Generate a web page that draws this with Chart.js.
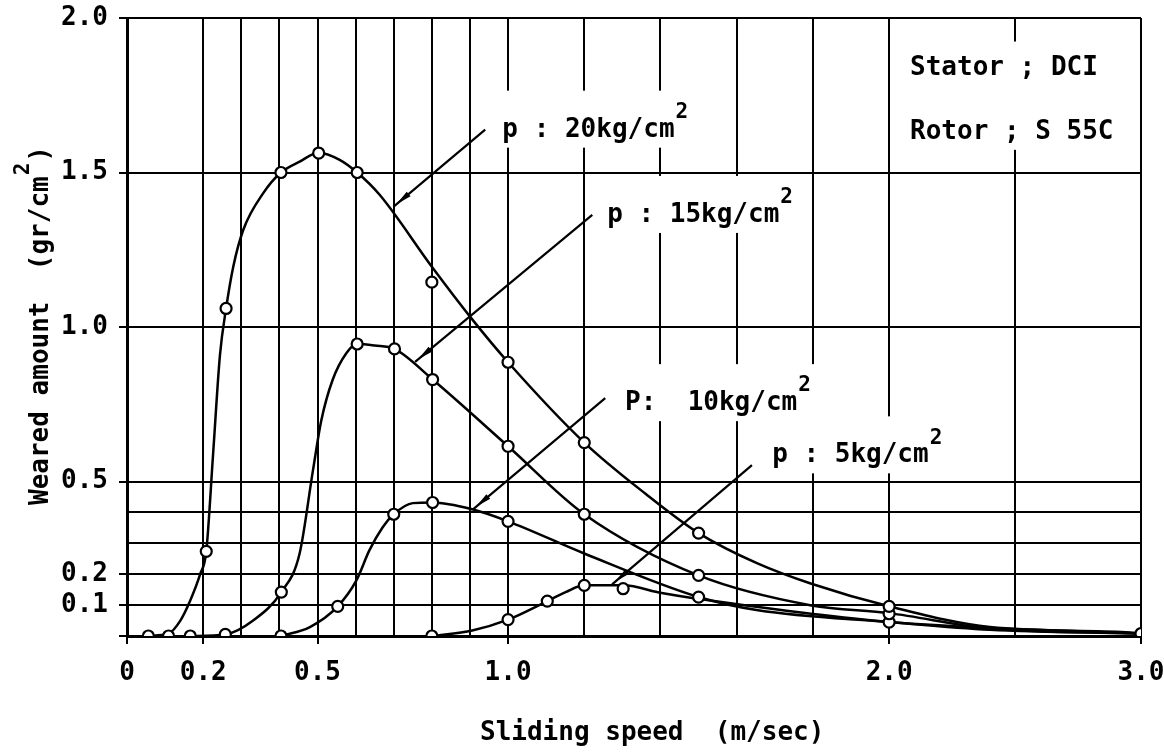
<!DOCTYPE html>
<html><head><meta charset="utf-8">
<script src="https://cdn.jsdelivr.net/npm/chart.js@4.4.1/dist/chart.umd.min.js"></script>
<style>html,body{margin:0;padding:0;background:#fff;}#wrap{width:1164px;height:752px;position:relative;}</style>
</head><body><div id="wrap"><canvas id="c"></canvas></div>
<script>
// ---------- data ----------
const xGridValues = [0, 0.2, 0.3, 0.4, 0.5, 0.6, 0.7, 0.8, 0.9, 1.0, 1.2, 1.4, 1.6, 1.8, 2.0, 2.5, 3.0];
const xTickValues = [0, 0.2, 0.5, 1.0, 2.0, 3.0];
const xTickLabels = ['0', '0.2', '0.5', '1.0', '2.0', '3.0'];
const yGridValues = [0, 0.1, 0.2, 0.3, 0.4, 0.5, 1.0, 1.5, 2.0];
const yTickValues = [0.1, 0.2, 0.5, 1.0, 1.5, 2.0];
const yTickLabels = ['0.1', '0.2', '0.5', '1.0', '1.5', '2.0'];

const seriesNames = ['p : 20kg/cm', 'p : 15kg/cm', 'P:  10kg/cm', 'p : 5kg/cm'];

// measured points (circles)
const pts20X = [0.056, 0.109, 0.208, 0.26, 0.404, 0.503, 0.604, 0.8, 1.0, 1.2, 1.5, 2.0, 3.0];
const pts20Y = [0, 0, 0.274, 1.06, 1.5, 1.563, 1.5, 1.145, 0.886, 0.626, 0.333, 0.096, 0.008];
const pts15X = [0.166, 0.258, 0.405, 0.604, 0.702, 0.802, 1.0, 1.2, 1.5, 2.0];
const pts15Y = [0, 0.005, 0.142, 0.945, 0.929, 0.83, 0.614, 0.394, 0.196, 0.072];
const pts10X = [0.404, 0.553, 0.7, 0.802, 1.0, 1.5, 2.0];
const pts10Y = [0, 0.096, 0.394, 0.432, 0.371, 0.126, 0.045];
const pts5X = [0.8, 1.0, 1.103, 1.2, 1.302];
const pts5Y = [0, 0.053, 0.113, 0.164, 0.153];

// fitted curves
const curve20X = [0.056, 0.109, 0.14, 0.166, 0.192, 0.208, 0.226, 0.244, 0.26, 0.279, 0.305, 0.358, 0.404, 0.453, 0.503, 0.558, 0.604, 0.663, 0.8, 0.907, 1.0, 1.2, 1.36, 1.5, 1.656, 1.796, 2.0, 2.4, 2.94, 3.0];
const curve20Y = [0, 0.008, 0.05, 0.115, 0.2, 0.274, 0.59, 0.91, 1.06, 1.196, 1.314, 1.434, 1.5, 1.535, 1.564, 1.541, 1.5, 1.428, 1.195, 1.023, 0.886, 0.626, 0.461, 0.333, 0.234, 0.169, 0.096, 0.029, 0.012, 0.008];
const curve15X = [0.166, 0.258, 0.331, 0.405, 0.453, 0.488, 0.51, 0.54, 0.576, 0.604, 0.65, 0.702, 0.802, 1.0, 1.2, 1.5, 1.796, 2.0, 2.4, 3.0];
const curve15Y = [0, 0.005, 0.05, 0.142, 0.267, 0.536, 0.698, 0.83, 0.916, 0.945, 0.94, 0.929, 0.83, 0.614, 0.394, 0.196, 0.099, 0.074, 0.024, 0.008];
const curve10X = [0.404, 0.48, 0.553, 0.602, 0.636, 0.671, 0.7, 0.75, 0.802, 0.906, 1.0, 1.2, 1.5, 1.656, 2.0, 2.4, 3.0];
const curve10Y = [0, 0.029, 0.096, 0.18, 0.277, 0.352, 0.394, 0.43, 0.432, 0.41, 0.371, 0.267, 0.126, 0.083, 0.045, 0.02, 0.008];
const curve5X = [0.8, 0.906, 1.0, 1.103, 1.151, 1.2, 1.302, 1.403, 1.5, 2.0, 3.0];
const curve5Y = [0, 0.018, 0.053, 0.113, 0.142, 0.164, 0.164, 0.139, 0.12, 0.045, 0.008];

const legendLines = ['Stator ; DCI', 'Rotor ; S 55C'];
const xTitle = 'Sliding speed  (m/sec)';
const yTitle = 'Weared amount  (gr/cm';

// ---------- layout / style ----------
const FONT = '"DejaVu Sans Mono", "Liberation Mono", monospace';
const WEIGHT = 'bold';
const BREAK = 2.0, COMPRESS = 0.661;   // the original axis is compressed beyond 2.0 m/s
function toAxis(v) { return v <= BREAK ? v : BREAK + (v - BREAK) * COMPRESS; }
function fromAxis(a) { return a <= BREAK ? a : BREAK + (a - BREAK) / COMPRESS; }
function idxOf(list, v) { for (let i = 0; i < list.length; i++) if (Math.abs(list[i] - v) < 1e-6) return i; return -1; }

const labelAnchors = [{x: 0.985, y: 1.616}, {x: 1.26, y: 1.34}, {x: 1.307, y: 0.731}, {x: 1.693, y: 0.562}];
const leaderLines = [[0.699, 1.389, 0.94, 1.639], [0.756, 0.887, 1.221, 1.363], [0.908, 0.41, 1.255, 0.77], [1.273, 0.167, 1.64, 0.553]];
const legendAnchor = {x: 2.083, y1: 1.817, y2: 1.609};

function toPts(xs, ys) { return xs.map((x, i) => ({x: toAxis(x), y: ys[i]})); }

const curves = [[curve20X, curve20Y], [curve15X, curve15Y], [curve10X, curve10Y], [curve5X, curve5Y]];
const points = [[pts20X, pts20Y], [pts15X, pts15Y], [pts10X, pts10Y], [pts5X, pts5Y]];

const datasets = [];
points.forEach((p, i) => datasets.push({
  type: 'scatter', label: seriesNames[i] + ' pts', data: toPts(p[0], p[1]), showLine: false,
  pointRadius: 5.5, pointBorderWidth: 2.2, pointBackgroundColor: '#fff', pointBorderColor: '#000', order: 0
}));
curves.forEach((c, i) => datasets.push({
  type: 'line', label: seriesNames[i], data: toPts(c[0], c[1]), borderColor: '#000', borderWidth: 2.5,
  pointRadius: 0, cubicInterpolationMode: 'monotone', fill: false, order: 1
}));

function fnt(size) { return WEIGHT + ' ' + size + 'px ' + FONT; }
function drawSup(ctx, main, sup, x, y, size, after) {
  ctx.font = fnt(size);
  ctx.fillText(main, x, y);
  const w = ctx.measureText(main).width;
  ctx.font = fnt(Math.round(size * 0.8));
  ctx.fillText(sup, x + w + 1, y - size * 0.72);
  const sw = ctx.measureText(sup).width;
  let total = w + 1 + sw;
  if (after) {
    ctx.font = fnt(size);
    ctx.fillText(after, x + total + 1, y);
    total += 1 + ctx.measureText(after).width;
  }
  return total;
}

const decor = {
  id: 'decor',
  beforeDatasetsDraw(chart) {
    const ctx = chart.ctx, xs = chart.scales.x, ys = chart.scales.y;
    const px = v => xs.getPixelForValue(toAxis(v)), py = v => ys.getPixelForValue(v);
    ctx.save();
    ctx.fillStyle = '#fff';
    ctx.font = fnt(26);
    labelAnchors.forEach((a, i) => {
      const w = ctx.measureText(seriesNames[i]).width + 16;
      ctx.fillRect(px(a.x) - 8, py(a.y) - 46, w + 20, 57);
    });
    const lw = Math.max(...legendLines.map(t => ctx.measureText(t).width));
    const lx = px(legendAnchor.x);
    ctx.fillRect(lx - 5, py(legendAnchor.y1) - 33, lw + 14, py(legendAnchor.y2) - py(legendAnchor.y1) + 44);
    ctx.restore();
  },
  afterDatasetsDraw(chart) {
    const ctx = chart.ctx, xs = chart.scales.x, ys = chart.scales.y;
    const px = v => xs.getPixelForValue(toAxis(v)), py = v => ys.getPixelForValue(v);
    ctx.save();
    ctx.strokeStyle = '#000'; ctx.fillStyle = '#000'; ctx.lineWidth = 2.2;
    leaderLines.forEach(l => {
      const x1 = px(l[0]), y1 = py(l[1]), x2 = px(l[2]), y2 = py(l[3]);
      ctx.beginPath(); ctx.moveTo(x1, y1); ctx.lineTo(x2, y2); ctx.stroke();
      const len = Math.hypot(x2 - x1, y2 - y1), ux = (x2 - x1) / len, uy = (y2 - y1) / len;
      const tx = x1 + ux * 4, ty = y1 + uy * 4, bx = x1 + ux * 20, by = y1 + uy * 20;
      ctx.beginPath();
      ctx.moveTo(tx, ty);
      ctx.lineTo(bx - uy * 3, by + ux * 3);
      ctx.lineTo(bx + uy * 3, by - ux * 3);
      ctx.closePath(); ctx.fill();
    });
    ctx.textBaseline = 'alphabetic'; ctx.textAlign = 'left';
    labelAnchors.forEach((a, i) => drawSup(ctx, seriesNames[i], '2', px(a.x), py(a.y), 26));
    ctx.font = fnt(26);
    ctx.fillText(legendLines[0], px(legendAnchor.x), py(legendAnchor.y1));
    ctx.fillText(legendLines[1], px(legendAnchor.x), py(legendAnchor.y2));
    // axis titles
    ctx.fillText(xTitle, 480, 740);
    ctx.translate(48, 505); ctx.rotate(-Math.PI / 2);
    drawSup(ctx, yTitle, '2', 0, 0, 26, ')');
    ctx.restore();
  }
};

new Chart(document.getElementById('c'), {
  data: {datasets},
  options: {
    responsive: true, maintainAspectRatio: false, animation: false,
    layout: {padding: {left: 0, right: 23, top: 18, bottom: 0}},
    plugins: {legend: {display: false}, tooltip: {enabled: false}, title: {display: false}},
    scales: {
      x: {
        type: 'linear', min: 0, max: toAxis(3.0),
        afterBuildTicks: s => { s.ticks = xGridValues.map(v => ({value: toAxis(v)})); },
        afterFit: s => { s.height = 116; s.paddingLeft = 0; s.paddingRight = 0; },
        ticks: {
          autoSkip: false, maxRotation: 0, padding: 14, color: '#000',
          font: {family: FONT, size: 26, weight: WEIGHT},
          callback: v => { const i = idxOf(xTickValues, fromAxis(v)); return i >= 0 ? xTickLabels[i] : ''; }
        },
        grid: {
          color: '#000', lineWidth: 2, drawTicks: true, tickLength: 8, tickWidth: 2,
          tickColor: c => idxOf(xTickValues, fromAxis(c.tick.value)) >= 0 ? '#000' : 'rgba(0,0,0,0)'
        },
        border: {display: true, color: '#000', width: 3},
        title: {display: false}
      },
      y: {
        type: 'linear', min: 0, max: 2.0,
        afterBuildTicks: s => { s.ticks = yGridValues.map(v => ({value: v})); },
        afterFit: s => { s.width = 127; s.paddingTop = 0; s.paddingBottom = 0; },
        ticks: {
          autoSkip: false, padding: 11, color: '#000',
          font: {family: FONT, size: 26, weight: WEIGHT},
          callback: v => { const i = idxOf(yTickValues, v); return i >= 0 ? yTickLabels[i] : ''; }
        },
        grid: {
          color: '#000', lineWidth: 2, drawTicks: true, tickLength: 8, tickWidth: 2,
          tickColor: c => (c.tick.value === 0 || idxOf(yTickValues, c.tick.value) >= 0) ? '#000' : 'rgba(0,0,0,0)'
        },
        border: {display: true, color: '#000', width: 3},
        title: {display: false}
      }
    }
  },
  plugins: [decor]
});
</script>
</body></html>
